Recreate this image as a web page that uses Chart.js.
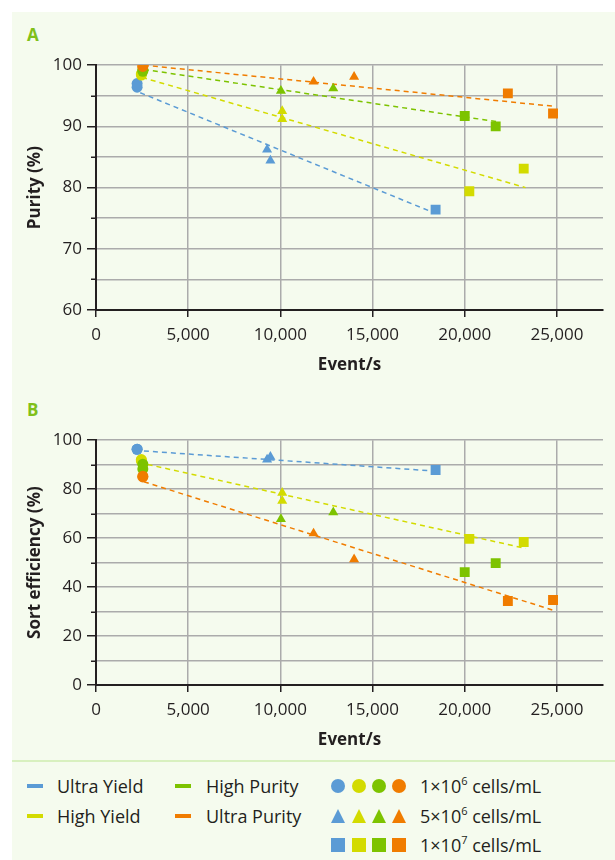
<!DOCTYPE html>
<html>
<head>
<meta charset="utf-8">
<script src="https://cdn.jsdelivr.net/npm/chart.js@4.4.1/dist/chart.umd.min.js"></script>
<style>
body{margin:0;background:#fff;font-family:'Open Sans',sans-serif;color:#231f20;}
#panel{position:absolute;left:12px;top:12px;width:603px;height:848px;background:#f5fbee;}
#sep{position:absolute;left:12px;top:760px;width:603px;height:2px;background:#d8f0bf;}
canvas{position:absolute;left:12px;}
.tag{position:absolute;left:27px;font-weight:bold;font-size:17px;line-height:20px;color:#80c01a;}
.row{position:absolute;height:20px;line-height:20px;font-size:18px;white-space:nowrap;}
.dash{position:absolute;width:16px;height:4px;}
.mk{position:absolute;width:14px;height:14px;}
.mk.c{border-radius:50%;}
.mk.t{clip-path:polygon(50% 0,100% 100%,0 100%);}
sup{font-size:11px;line-height:0;position:relative;top:-1px;}
</style>
</head>
<body>
<div id="panel"></div>
<div id="sep"></div>
<div class="tag" style="top:25px">A</div>
<div class="tag" style="top:400px">B</div>
<canvas id="purityChart" width="603" height="330" style="top:50px"></canvas>
<canvas id="effChart" width="603" height="330" style="top:425px"></canvas>
<div id="legend"></div>
<script>
// sort modes
const modeNames  = ['Ultra Yield', 'High Yield', 'High Purity', 'Ultra Purity'];
const modeColors = ['#5b9bd5', '#d3db00', '#7dc300', '#f07c00'];
// sample concentrations -> marker
const concLabels = ['1×10<sup>6</sup> cells/mL', '5×10<sup>6</sup> cells/mL', '1×10<sup>7</sup> cells/mL'];
const concShapes = ['circle', 'triangle', 'rect'];
const concRadius = [5.5, 5.8, 7];

// x ticks
const eventTicks = [0, 5000, 10000, 15000, 20000, 25000];

// Ultra Yield
const uyEvents = [2230, 2230, 9280, 9460, 18420];
const uyConc   = [0, 0, 1, 1, 2];
const uyPurity = [97.0, 96.4, 86.2, 84.4, 76.4];
const uyEff    = [96.3, 96.3, 92.1, 93.2, 87.8];
// High Yield
const hyEvents = [2460, 2460, 10100, 10100, 20250, 23200];
const hyConc   = [0, 0, 1, 1, 2, 2];
const hyPurity = [98.4, 98.6, 92.5, 91.2, 79.4, 83.1];
const hyEff    = [92.1, 91.6, 78.5, 75.2, 59.7, 58.4];
// High Purity
const hpEvents = [2540, 2540, 10030, 12870, 20000, 21680];
const hpConc   = [0, 0, 1, 1, 2, 2];
const hpPurity = [99.3, 99.0, 95.8, 96.2, 91.7, 90.0];
const hpEff    = [90.2, 88.2, 67.8, 70.5, 46.1, 49.8];
// Ultra Purity
const upEvents = [2540, 2540, 11800, 14000, 22340, 24790];
const upConc   = [0, 0, 1, 1, 2, 2];
const upPurity = [99.9, 99.8, 97.3, 98.1, 95.4, 92.1];
const upEff    = [85.3, 85.0, 61.9, 51.3, 34.3, 34.7];

// dashed trend lines (end points)
const uyPurityFitX = [2400, 18400],  uyPurityFitY = [95.5, 75.8];
const hyPurityFitX = [2500, 23300],  hyPurityFitY = [98.0, 80.0];
const hpPurityFitX = [2600, 21700],  hpPurityFitY = [99.3, 90.8];
const upPurityFitX = [2600, 24800],  upPurityFitY = [100.0, 93.3];
const uyEffFitX = [2600, 18200],     uyEffFitY = [95.6, 87.5];
const hyEffFitX = [2800, 23300],     hyEffFitY = [90.1, 55.8];
const upEffFitX = [2600, 24900],     upEffFitY = [83.0, 30.3];

const FONT = "'Open Sans', sans-serif";
const INK = '#231f20';
const GRID = '#ababab';

function pts(xs, ys){ return xs.map((x,i)=>({x:x, y:ys[i]})); }

function markerSet(mode, xs, ys, conc){
  return {
    data: pts(xs, ys),
    backgroundColor: modeColors[mode],
    pointBorderWidth: 0,
    pointStyle: c => concShapes[conc[c.dataIndex]],
    pointRadius: c => concRadius[conc[c.dataIndex]],
    showLine: false,
    order: 4 - mode
  };
}
function fitSet(mode, xs, ys){
  return {
    data: pts(xs, ys),
    borderColor: modeColors[mode],
    borderWidth: 1.5,
    borderDash: [5, 4],
    pointRadius: 0,
    showLine: true,
    fill: false,
    order: 10
  };
}

// short minor ticks on y axis
const minorTicks = {
  id: 'minorTicks',
  afterDraw(chart){
    const s = chart.scales.y, ctx = chart.ctx;
    ctx.save();
    ctx.strokeStyle = INK; ctx.lineWidth = 1.5;
    s.ticks.forEach(t => {
      if (t.label !== '') return;
      const py = Math.round(s.getPixelForValue(t.value)) + 0.25;
      ctx.beginPath(); ctx.moveTo(s.right - 5, py); ctx.lineTo(s.right, py); ctx.stroke();
    });
    ctx.restore();
  }
};

function makeChart(id, datasets, yMin, yStep, labelStep, yTitle){
  return new Chart(document.getElementById(id).getContext('2d'), {
    type: 'scatter',
    data: {datasets: datasets},
    options: {
      responsive: false,
      animation: false,
      devicePixelRatio: 1,
      layout: {padding: {top: 15, right: 12, left: 0, bottom: 0}},
      plugins: {legend: {display: false}, tooltip: {enabled: false}},
      scales: {
        x: {
          type: 'linear', min: 0, max: 27500,
          afterFit: s => { s.height = 70; },
          afterBuildTicks: s => { s.ticks = eventTicks.map(v => ({value: v})); },
          ticks: {
            padding: 8, color: INK, font: {family: FONT, size: 17},
            callback: v => v.toLocaleString('en-US')
          },
          grid: {color: GRID, lineWidth: 1.5, tickLength: 7, tickColor: INK, tickWidth: 1.5},
          border: {color: INK, width: 2},
          title: {display: true, text: 'Event/s', color: INK,
                  font: {family: FONT, size: 17, weight: 'bold'}, padding: {top: 0, bottom: 4.8}}
        },
        y: {
          type: 'linear', min: yMin, max: 100,
          afterFit: s => { s.width = 84; },
          ticks: {
            stepSize: yStep, padding: 5, color: INK, font: {family: FONT, size: 17},
            callback: v => (v % labelStep === 0 ? String(v) : '')
          },
          grid: {color: GRID, lineWidth: 1.5, tickLength: 9, tickWidth: 1.5,
                 tickColor: c => (c.tick && c.tick.value % labelStep === 0 ? INK : 'rgba(0,0,0,0)')},
          border: {color: INK, width: 2},
          title: {display: true, text: yTitle, color: INK,
                  font: {family: FONT, size: 17, weight: 'bold'}, padding: {top: 13.3, bottom: 0}}
        }
      }
    },
    plugins: [minorTicks]
  });
}

makeChart('purityChart', [
  markerSet(3, upEvents, upPurity, upConc),
  markerSet(2, hpEvents, hpPurity, hpConc),
  markerSet(1, hyEvents, hyPurity, hyConc),
  markerSet(0, uyEvents, uyPurity, uyConc),
  fitSet(0, uyPurityFitX, uyPurityFitY),
  fitSet(1, hyPurityFitX, hyPurityFitY),
  fitSet(2, hpPurityFitX, hpPurityFitY),
  fitSet(3, upPurityFitX, upPurityFitY)
], 60, 5, 10, 'Purity (%)');

makeChart('effChart', [
  markerSet(3, upEvents, upEff, upConc),
  markerSet(2, hpEvents, hpEff, hpConc),
  markerSet(1, hyEvents, hyEff, hyConc),
  markerSet(0, uyEvents, uyEff, uyConc),
  fitSet(0, uyEffFitX, uyEffFitY),
  fitSet(1, hyEffFitX, hyEffFitY),
  fitSet(3, upEffFitX, upEffFitY)
], 0, 10, 20, 'Sort efficiency (%)');

// Legend
const legend = document.getElementById('legend');
const rowY = [776, 806, 835];
let html = '';
modeNames.forEach((name, i) => {
  const c = i < 2 ? 0 : 1;
  const r = i % 2;
  const dx = c === 0 ? 27 : 175, tx = c === 0 ? 57 : 206;
  html += `<div class="dash" style="left:${dx}px;top:${rowY[r] + 8}px;background:${modeColors[i]}"></div>`;
  html += `<div class="row" style="left:${tx}px;top:${rowY[r]}px">${name}</div>`;
});
const mkX = [331, 352, 372, 392];
concLabels.forEach((lab, r) => {
  const cls = ['c', 't', 's'][r];
  modeColors.forEach((col, i) => {
    html += `<div class="mk ${cls}" style="left:${mkX[i]}px;top:${rowY[r] + 3}px;background:${col}"></div>`;
  });
  html += `<div class="row" style="left:420px;top:${rowY[r]}px">${lab}</div>`;
});
legend.innerHTML = html;
</script>
</body>
</html>
